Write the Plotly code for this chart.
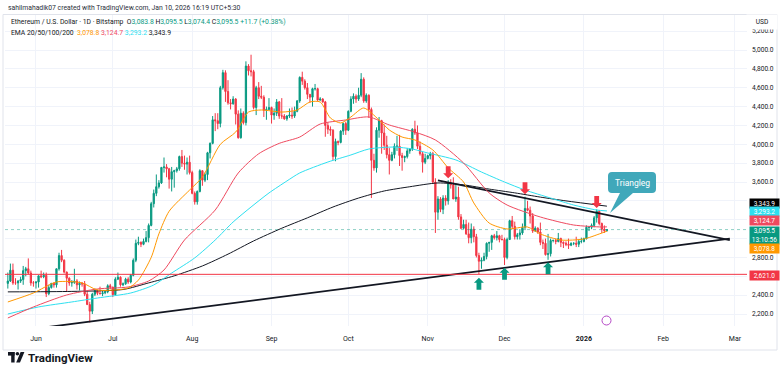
import plotly.graph_objects as go
import pandas as pd

# ---------------- data ----------------
first_day = "2025-05-21"
last_day = "2026-01-10"

opens = [
    2525, 2550, 2665, 2530, 2530, 2550, 2565, 2660, 2680, 2635, 2530,
    2530, 2540, 2605, 2595, 2610, 2415, 2480, 2525, 2510, 2680, 2820, 2770, 2645, 2580, 2530,
    2535, 2550, 2510, 2525, 2520, 2410, 2300, 2230, 2410, 2445, 2420, 2415, 2425, 2435, 2500,
    2485, 2405, 2570, 2590, 2510, 2520, 2570, 2540, 2610, 2770, 2950, 2960, 2940, 2970, 3010, 3140,
    3370, 3480, 3550, 3590, 3755, 3760, 3740, 3630, 3710, 3720, 3740, 3870, 3800, 3790, 3810,
    3700, 3480, 3390, 3500, 3720, 3620, 3680, 3910, 4010, 4260, 4250, 4220, 4600, 4760, 4560, 4440,
    4430, 4480, 4320, 4070, 4330, 4230, 4830, 4780, 4770, 4390, 4600, 4510, 4500, 4360, 4370,
    4390, 4310, 4330, 4450, 4300, 4300, 4270, 4300, 4310, 4300, 4350, 4460, 4710, 4670, 4600,
    4530, 4500, 4590, 4590, 4470, 4480, 4450, 4200, 4160, 4150, 3870, 4030, 4020, 4140, 4220,
    4150, 4350, 4480, 4510, 4480, 4520, 4690, 4460, 4520, 4370, 3830, 3750, 4150, 4250, 4120, 3990,
    3890, 3830, 3890, 3980, 3980, 3880, 3860, 3870, 3930, 3950, 4160, 4120, 3980, 3900, 3810,
    3850, 3880, 3900, 3600, 3280, 3420, 3310, 3430, 3400, 3590, 3570, 3420, 3440, 3230, 3110,
    3150, 3050, 3010, 3100, 3020, 2820, 2760, 2770, 2810, 2950, 2960, 3030, 3010, 3030, 2990,
    2990, 2800, 2990, 3190, 3130, 3020, 3040, 3060, 3120, 3320, 3300, 3240, 3080, 3110, 3070, 2960,
    2950, 2830, 2840, 2980, 2980, 2970, 3000, 2960, 2950, 2940, 2930, 2950, 2950, 2940, 2970,
    2970, 3000, 3120, 3120, 3140, 3220, 3290, 3160, 3100, 3083.8,
]
highs = [
    2640, 2735, 2735, 2580, 2560, 2595, 2710, 2700, 2790, 2660, 2550,
    2545, 2610, 2660, 2640, 2640, 2510, 2530, 2535, 2680, 2850, 2880, 2780, 2650, 2590, 2560,
    2680, 2570, 2545, 2540, 2550, 2440, 2330, 2425, 2470, 2460, 2490, 2450, 2450, 2515, 2520,
    2490, 2590, 2640, 2600, 2535, 2585, 2590, 2625, 2790, 2990, 3020, 2970, 3000, 3080, 3160, 3390,
    3520, 3680, 3620, 3760, 3860, 3790, 3750, 3760, 3730, 3760, 3880, 3940, 3880, 3860, 3880,
    3720, 3500, 3510, 3735, 3725, 3700, 3920, 4020, 4300, 4330, 4330, 4620, 4790, 4785, 4680, 4480,
    4510, 4490, 4360, 4380, 4350, 4880, 4850, 4950, 4790, 4620, 4660, 4620, 4520, 4400, 4490,
    4400, 4380, 4480, 4460, 4490, 4320, 4310, 4380, 4390, 4400, 4470, 4720, 4770, 4690, 4650,
    4530, 4600, 4640, 4600, 4500, 4490, 4460, 4230, 4190, 4160, 4060, 4040, 4150, 4230, 4240,
    4360, 4510, 4540, 4530, 4600, 4755, 4710, 4540, 4530, 4390, 3900, 4180, 4290, 4260, 4210, 4090,
    3960, 3920, 4010, 4090, 4100, 3910, 3880, 3960, 3960, 4170, 4250, 4200, 4030, 3920, 3900,
    3890, 3920, 3920, 3640, 3450, 3440, 3460, 3460, 3620, 3630, 3650, 3580, 3550, 3260, 3200,
    3200, 3170, 3160, 3130, 3050, 2850, 2800, 2850, 2960, 2960, 3040, 3050, 3080, 3040, 3040,
    3010, 3010, 3200, 3240, 3180, 3060, 3100, 3160, 3445, 3400, 3340, 3270, 3130, 3120, 3170, 2990,
    3000, 3050, 3000, 2990, 3000, 3060, 3010, 2970, 2970, 3000, 2960, 2960, 3020, 2990, 3010,
    3010, 3140, 3130, 3160, 3240, 3310, 3300, 3170, 3140, 3095.5,
]
lows = [
    2470, 2540, 2510, 2510, 2460, 2530, 2510, 2600, 2620, 2500, 2490,
    2470, 2480, 2580, 2580, 2380, 2400, 2470, 2480, 2480, 2660, 2750, 2630, 2440, 2500, 2490,
    2520, 2460, 2450, 2490, 2390, 2300, 2110, 2200, 2390, 2400, 2410, 2390, 2410, 2420, 2465,
    2380, 2395, 2560, 2490, 2495, 2510, 2520, 2525, 2600, 2750, 2930, 2910, 2930, 2960, 2960, 3130,
    3330, 3450, 3530, 3580, 3700, 3650, 3530, 3500, 3540, 3700, 3720, 3760, 3730, 3680, 3680,
    3470, 3360, 3360, 3490, 3560, 3600, 3620, 3850, 4000, 4140, 4160, 4180, 4580, 4450, 4420, 4370,
    4420, 4210, 4060, 4060, 4210, 4200, 4730, 4720, 4370, 4310, 4480, 4480, 4290, 4260, 4360,
    4220, 4260, 4300, 4270, 4270, 4260, 4250, 4280, 4270, 4280, 4340, 4440, 4630, 4580, 4480,
    4440, 4400, 4570, 4460, 4460, 4440, 4080, 4110, 4090, 3830, 3820, 3990, 4010, 4100, 4100,
    4140, 4340, 4430, 4440, 4460, 4500, 4440, 4440, 4280, 3430, 3720, 3700, 4070, 3900, 3940, 3850,
    3680, 3820, 3850, 3930, 3770, 3720, 3810, 3850, 3900, 3930, 4100, 3950, 3880, 3700, 3790,
    3840, 3840, 3580, 3060, 3200, 3280, 3260, 3350, 3360, 3530, 3420, 3390, 3200, 3100, 3100,
    3040, 2950, 2950, 2960, 2800, 2623, 2680, 2760, 2780, 2860, 2880, 2990, 2980, 2960, 2980,
    2720, 2780, 2990, 3100, 2990, 2990, 2990, 3040, 3090, 3290, 3160, 3060, 3070, 3050, 2930, 2890,
    2820, 2775, 2810, 2960, 2940, 2960, 2910, 2900, 2920, 2890, 2920, 2930, 2910, 2910, 2950,
    2960, 2990, 3080, 3100, 3120, 3170, 3140, 3060, 3060, 3074.4,
]
closes = [
    2550, 2665, 2530, 2530, 2550, 2565, 2660, 2680, 2635, 2530, 2530,
    2540, 2605, 2595, 2610, 2415, 2480, 2525, 2510, 2680, 2820, 2770, 2645, 2580, 2530, 2535,
    2550, 2510, 2525, 2520, 2410, 2300, 2230, 2410, 2445, 2420, 2415, 2425, 2435, 2500, 2485,
    2405, 2570, 2590, 2510, 2520, 2570, 2540, 2610, 2770, 2950, 2960, 2940, 2970, 3010, 3140, 3370,
    3480, 3550, 3590, 3755, 3760, 3740, 3630, 3710, 3720, 3740, 3870, 3800, 3790, 3810, 3700,
    3480, 3390, 3500, 3720, 3620, 3680, 3910, 4010, 4260, 4250, 4220, 4600, 4760, 4560, 4440, 4430,
    4480, 4320, 4070, 4330, 4230, 4830, 4780, 4770, 4390, 4600, 4510, 4500, 4360, 4370, 4390,
    4310, 4330, 4450, 4300, 4300, 4270, 4300, 4310, 4300, 4350, 4460, 4710, 4670, 4600, 4530,
    4500, 4590, 4590, 4470, 4480, 4450, 4200, 4160, 4150, 3870, 4030, 4020, 4140, 4220, 4150,
    4350, 4480, 4510, 4480, 4520, 4690, 4460, 4520, 4370, 3830, 3750, 4150, 4250, 4120, 3990, 3890,
    3830, 3890, 3980, 3980, 3880, 3860, 3870, 3930, 3950, 4160, 4120, 3980, 3900, 3810, 3850,
    3880, 3900, 3600, 3280, 3420, 3310, 3430, 3400, 3590, 3570, 3420, 3440, 3230, 3110, 3150,
    3050, 3010, 3100, 3020, 2820, 2760, 2770, 2810, 2950, 2960, 3030, 3010, 3030, 2990, 2990,
    2800, 2990, 3190, 3130, 3020, 3040, 3060, 3120, 3320, 3300, 3240, 3080, 3110, 3070, 2960, 2950,
    2830, 2840, 2980, 2980, 2970, 3000, 2960, 2950, 2940, 2930, 2950, 2950, 2940, 2970, 2970,
    3000, 3120, 3120, 3140, 3220, 3290, 3160, 3100, 3083.8, 3095.5,
]

ema20_dates = ["2025-05-21", "2025-05-31", "2025-06-09", "2025-06-19", "2025-06-25", "2025-07-07",
               "2025-07-11", "2025-07-16", "2025-07-19", "2025-07-23", "2025-07-31", "2025-08-05",
               "2025-08-12", "2025-08-18", "2025-08-23", "2025-08-28", "2025-09-05", "2025-09-11",
               "2025-09-16", "2025-09-20", "2025-09-24", "2025-09-28", "2025-10-02", "2025-10-07",
               "2025-10-13", "2025-10-17", "2025-10-22", "2025-10-27", "2025-11-03", "2025-11-09",
               "2025-11-15", "2025-11-19", "2025-11-25", "2025-12-02", "2025-12-10", "2025-12-15",
               "2025-12-23", "2026-01-01", "2026-01-07", "2026-01-10"]
ema20 = [2328, 2423, 2540, 2530, 2455, 2476, 2560, 2800, 3050, 3290, 3515, 3653, 4000, 4130, 4342,
         4364, 4342, 4364, 4449, 4449, 4279, 4226, 4290, 4385, 4258, 4152, 4077, 4046, 3940, 3750,
         3600, 3378, 3165, 3102, 3123, 3049, 2985, 2996, 3049, 3078.8]

ema50_dates = ["2025-05-21", "2025-05-31", "2025-06-13", "2025-06-25", "2025-07-07", "2025-07-15",
               "2025-07-21", "2025-07-29", "2025-08-10", "2025-08-19", "2025-08-27", "2025-09-04",
               "2025-09-12", "2025-09-20", "2025-09-30", "2025-10-09", "2025-10-17", "2025-10-27",
               "2025-11-04", "2025-11-15", "2025-11-25", "2025-12-02", "2025-12-15", "2025-12-28",
               "2026-01-08", "2026-01-10"]
ema50 = [2158, 2275, 2402, 2466, 2487, 2550, 2667, 2985, 3303, 3696, 3900, 4010, 4077, 4215, 4258,
         4290, 4205, 4130, 4046, 3802, 3484, 3356, 3229, 3144, 3123, 3124.7]

ema100_dates = ["2025-05-21", "2025-06-02", "2025-06-15", "2025-06-25", "2025-07-08", "2025-07-17",
                "2025-07-24", "2025-08-02", "2025-08-10", "2025-08-17", "2025-08-24", "2025-08-31",
                "2025-09-07", "2025-09-12", "2025-09-23", "2025-10-02", "2025-10-09", "2025-10-19",
                "2025-10-26", "2025-11-01", "2025-11-12", "2025-11-22", "2025-12-01", "2025-12-09",
                "2025-12-19", "2025-12-28", "2026-01-06", "2026-01-10"]
ema100 = [2200, 2275, 2328, 2370, 2423, 2508, 2635, 2795, 2985, 3176, 3335, 3484, 3611, 3696, 3812,
          3887, 3950, 3971, 3950, 3908, 3834, 3706, 3600, 3515, 3430, 3356, 3303, 3293.2]

ema200_dates = ["2025-05-21", "2025-06-15", "2025-07-05", "2025-07-15", "2025-07-25", "2025-08-05",
                "2025-08-15", "2025-08-25", "2025-09-05", "2025-09-15", "2025-09-25", "2025-10-05",
                "2025-10-15", "2025-10-25", "2025-11-05", "2025-11-15", "2025-11-25", "2025-12-05",
                "2025-12-15", "2025-12-25", "2026-01-10"]
ema200 = [2435, 2440, 2460, 2530, 2605, 2710, 2835, 2975, 3110, 3220, 3335, 3430, 3505, 3550, 3590,
          3570, 3525, 3485, 3440, 3400, 3343.9]

support_level = 2621.0
last_price = 3095.5

upper_line_dates = ["2025-11-05", "2026-02-27"]
upper_line_prices = [3618, 2985]
lower_line_dates = ["2025-06-01", "2026-02-27"]
lower_line_prices = [2046, 2999]

red_arrow_dates = ["2025-11-09", "2025-12-09", "2026-01-06"]
red_arrow_prices = [3640, 3470, 3325]
green_arrow_dates = ["2025-11-21", "2025-12-01", "2025-12-18"]
green_arrow_prices = [2585, 2690, 2750]

month_ticks = ["2025-06-01", "2025-07-01", "2025-08-01", "2025-09-01", "2025-10-01",
               "2025-11-01", "2025-12-01", "2026-01-01", "2026-02-01", "2026-03-01"]
month_labels = ["Jun", "Jul", "Aug", "Sep", "Oct", "Nov", "Dec", "<b>2026</b>", "Feb", "Mar"]

price_ticks = [2200, 2400, 2600, 2800, 3000, 3200, 3400, 3600, 3800, 4000, 4200, 4400, 4600,
               4800, 5000, 5200]
hidden_price_ticks = [2600, 3000, 3200, 3400]

ema_tag_values = [3343.9, 3293.2, 3124.7, 3078.8]

# ---------------- styling ----------------
UP = "#089981"
DN = "#f23645"
C20 = "#ff9800"
C50 = "#ef4a5f"
C100 = "#2ee0f0"
C200 = "#131722"
TXT = "#131722"
FONT = "Roboto"

L_PX, R_PX, T_PX, B_PX = 5, 747, 14, 326


def px(x):
    return (x - L_PX) / (R_PX - L_PX)


def py(y):
    return (B_PX - y) / (B_PX - T_PX)


def paper_path(cmds):
    out = []
    for c, *pts in cmds:
        if c == "Z":
            out.append("Z")
            continue
        coords = [f"{px(pts[i]):.5f},{py(pts[i + 1]):.5f}" for i in range(0, len(pts), 2)]
        out.append(c + " ".join(coords))
    return " ".join(out)


dates = pd.date_range(first_day, last_day, freq="D")

fig = go.Figure()

# trend lines
fig.add_trace(go.Scatter(x=lower_line_dates, y=lower_line_prices, mode="lines",
                         line=dict(color="#131722", width=1.8), hoverinfo="skip"))
fig.add_trace(go.Scatter(x=upper_line_dates, y=upper_line_prices, mode="lines",
                         line=dict(color="#131722", width=1.8), hoverinfo="skip"))

# EMAs
for dts, vals, col in [(ema200_dates, ema200, C200), (ema100_dates, ema100, C100),
                       (ema50_dates, ema50, C50), (ema20_dates, ema20, C20)]:
    fig.add_trace(go.Scatter(x=dts, y=vals, mode="lines",
                             line=dict(color=col, width=1, shape="spline", smoothing=0.7),
                             hoverinfo="skip"))

fig.add_trace(go.Candlestick(
    x=dates, open=opens, high=highs, low=lows, close=closes,
    increasing=dict(line=dict(color=UP, width=1), fillcolor=UP),
    decreasing=dict(line=dict(color=DN, width=1), fillcolor=DN),
    whiskerwidth=0, hoverinfo="skip"))

shapes = []
# support line & last-price line
shapes.append(dict(type="line", xref="paper", x0=0, x1=1, yref="y", y0=support_level,
                   y1=support_level, line=dict(color=DN, width=1)))
shapes.append(dict(type="line", xref="paper", x0=0, x1=1, yref="y", y0=last_price,
                   y1=last_price, line=dict(color="rgba(8,153,129,0.45)", width=1, dash="dot")))

down_arrow = "M0,0 L-5,5 L-2.4,5 L-2.4,12 L2.4,12 L2.4,5 L5,5 Z"
up_arrow = "M0,0 L-5,-5 L-2.4,-5 L-2.4,-12 L2.4,-12 L2.4,-5 L5,-5 Z"
for d, p in zip(red_arrow_dates, red_arrow_prices):
    shapes.append(dict(type="path", xref="x", yref="y", xsizemode="pixel", ysizemode="pixel",
                       xanchor=d, yanchor=p, path=down_arrow, fillcolor=DN,
                       line=dict(width=0)))
for d, p in zip(green_arrow_dates, green_arrow_prices):
    shapes.append(dict(type="path", xref="x", yref="y", xsizemode="pixel", ysizemode="pixel",
                       xanchor=d, yanchor=p, path=up_arrow, fillcolor=UP,
                       line=dict(width=0)))

# callout
callout = [("M", 612, 172), ("L", 652, 172), ("Q", 656, 172, 656, 176), ("L", 656, 189),
           ("Q", 656, 193, 652, 193), ("L", 633, 193), ("L", 610, 213), ("L", 620, 193),
           ("L", 612, 193), ("Q", 608, 193, 608, 189), ("L", 608, 176),
           ("Q", 608, 172, 612, 172), ("Z",)]
shapes.append(dict(type="path", xref="paper", yref="paper", path=paper_path(callout),
                   fillcolor="#40a8ba", line=dict(width=0)))

# event circle near bottom
shapes.append(dict(type="circle", xref="paper", yref="paper", x0=px(602), x1=px(611),
                   y0=py(325), y1=py(316), line=dict(color="#b548c6", width=1)))

# frame
shapes.append(dict(type="rect", xref="paper", yref="paper", x0=px(3), x1=px(777),
                   y0=py(350), y1=py(14.5), line=dict(color="#e0e3eb", width=1)))

# TradingView logo glyph
shapes.append(dict(type="rect", xref="paper", yref="paper", x0=px(8), x1=px(14.6),
                   y0=py(355.6), y1=py(352), fillcolor="#131722", line=dict(width=0)))
shapes.append(dict(type="rect", xref="paper", yref="paper", x0=px(11.2), x1=px(14.6),
                   y0=py(362.5), y1=py(352), fillcolor="#131722", line=dict(width=0)))
shapes.append(dict(type="circle", xref="paper", yref="paper", x0=px(15.6), x1=px(19.2),
                   y0=py(355.6), y1=py(352), fillcolor="#131722", line=dict(width=0)))
shapes.append(dict(type="path", xref="paper", yref="paper",
                   path=paper_path([("M", 16.2, 362.5), ("L", 20.6, 352), ("L", 24.4, 352),
                                    ("L", 20.0, 362.5), ("Z",)]),
                   fillcolor="#131722", line=dict(width=0)))

annotations = []
# header
annotations.append(dict(xref="paper", yref="paper", x=px(6), y=py(7.5), xanchor="left",
                        yanchor="middle", showarrow=False,
                        text="sahilmahadik07 created with TradingView.com, Jan 10, 2026 16:19 UTC+5:30",
                        font=dict(family=FONT, size=6.8, color="#2a2e39")))
g = UP
line2 = ("Ethereum / U.S. Dollar · 1D · Bitstamp  "
         f"O<span style='color:{g}'>3,083.8</span> H<span style='color:{g}'>3,095.5</span> "
         f"L<span style='color:{g}'>3,074.4</span> C<span style='color:{g}'>3,095.5</span> "
         f"<span style='color:{g}'>+11.7 (+0.38%)</span>")
annotations.append(dict(xref="paper", yref="paper", x=px(9), y=py(21.5), xanchor="left",
                        yanchor="middle", showarrow=False, text=line2,
                        font=dict(family=FONT, size=6.8, color=TXT)))
line3 = (f"EMA 20/50/100/200  <span style='color:{C20}'>{ema_tag_values[3]:,.1f}</span> "
         f"<span style='color:{C50}'>{ema_tag_values[2]:,.1f}</span> "
         f"<span style='color:{C100}'>{ema_tag_values[1]:,.1f}</span> "
         f"<span style='color:{C200}'>{ema_tag_values[0]:,.1f}</span>")
annotations.append(dict(xref="paper", yref="paper", x=px(9), y=py(33), xanchor="left",
                        yanchor="middle", showarrow=False, text=line3,
                        font=dict(family=FONT, size=6.8, color=TXT)))

# USD label
annotations.append(dict(xref="paper", yref="paper", x=px(762), y=py(22), xanchor="center",
                        yanchor="middle", showarrow=False, text="USD", bgcolor="white",
                        width=28, height=12, font=dict(family=FONT, size=6.6, color=TXT)))

# price tags
tags = [
    (ema_tag_values[0], f"{ema_tag_values[0]:,.1f}", "#000000", 3, 7),
    (ema_tag_values[1], f"{ema_tag_values[1]:,.1f}", C100, -1, 7),
    (ema_tag_values[2], f"{ema_tag_values[2]:,.1f}", C50, 6, 7),
    (last_price, f"{last_price:,.1f}<br>13:10:56", UP, -5.5, 15),
    (ema_tag_values[3], f"{ema_tag_values[3]:,.1f}", C20, -17, 7),
    (support_level, f"{support_level:,.1f}", DN, -1, 7),
]
for val, txt, col, shift, hgt in tags:
    annotations.append(dict(xref="paper", yref="y", x=1, y=val, xanchor="left",
                            yanchor="middle", xshift=2, yshift=shift, showarrow=False,
                            text=txt, bgcolor=col, width=27, height=hgt, borderpad=1,
                            align="center",
                            font=dict(family=FONT, size=6.5, color="white")))

# callout text
annotations.append(dict(xref="paper", yref="paper", x=px(632), y=py(182.5), xanchor="center",
                        yanchor="middle", showarrow=False, text="Triangleg",
                        font=dict(family=FONT, size=8.5, color="white")))

# logo text
annotations.append(dict(xref="paper", yref="paper", x=px(26), y=py(357.5), xanchor="left",
                        yanchor="middle", showarrow=False, text="<b>TradingView</b>",
                        font=dict(family=FONT, size=11.5, color="#131722")))

price_labels = ["" if v in hidden_price_ticks else f"{v:,.1f}" for v in price_ticks]

fig.update_layout(
    width=780, height=373,
    margin=dict(l=L_PX, r=780 - R_PX, t=T_PX, b=373 - B_PX),
    paper_bgcolor="white", plot_bgcolor="white",
    showlegend=False,
    shapes=shapes, annotations=annotations,
    xaxis=dict(type="date", range=["2025-05-19 21:30", "2026-03-05 17:00"],
               tickvals=month_ticks, ticktext=month_labels, showgrid=True,
               gridcolor="#f0f3fa", gridwidth=1, zeroline=False, showline=False, ticks="",
               tickfont=dict(family=FONT, size=7, color=TXT), ticklabelstandoff=7,
               rangeslider=dict(visible=False), automargin=False, fixedrange=True),
    yaxis=dict(side="right", range=[2073, 5382], tickvals=price_ticks, ticktext=price_labels,
               showgrid=True, gridcolor="#f0f3fa", gridwidth=1, zeroline=False, showline=False,
               ticks="", tickfont=dict(family=FONT, size=6.6, color=TXT), ticklabelstandoff=4,
               automargin=False, fixedrange=True),
)

fig.write_html("out.html", config={"displayModeBar": False},
               post_script="document.body.style.margin='0';document.body.style.padding='0';"
                           "window.dispatchEvent(new Event('resize'));")
